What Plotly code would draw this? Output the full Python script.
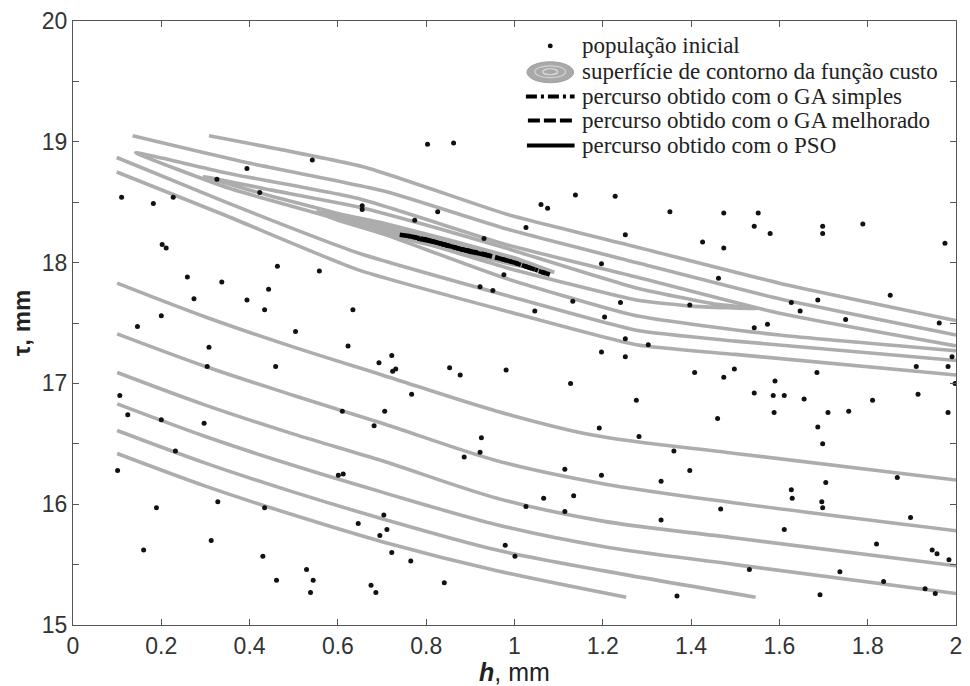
import plotly.graph_objects as go

# ---------------------------------------------------------------------------
# Initial population (h [mm], tau [mm])
# ---------------------------------------------------------------------------
pop_h = [
    0.803, 0.862, 0.542, 0.394, 0.326, 0.110, 0.182, 0.227, 0.423, 0.655, 0.655,
    0.826, 0.774, 0.931, 0.976, 0.922, 0.951, 0.202, 0.211, 0.463, 0.558, 0.259,
    0.337, 0.443, 0.274, 0.394, 0.434, 0.634, 0.200, 0.146, 0.504, 0.623, 0.308,
    1.046, 0.304, 0.459, 0.693, 0.722, 0.724, 0.731, 0.853, 0.877, 0.981, 0.767,
    0.106, 0.124, 0.200, 0.297, 0.610, 0.706, 0.682, 0.925, 0.922, 0.886, 0.232,
    0.101, 0.601, 0.612, 1.066, 1.026, 0.189, 0.328, 0.434, 0.646, 0.704, 0.711,
    0.695, 0.722, 0.765, 0.313, 0.160, 0.430, 0.529, 0.461, 0.544, 0.538, 0.675,
    0.686, 0.841, 0.979, 1.001,
    1.127, 1.474, 1.590, 1.998, 1.543, 1.586, 1.611, 1.656, 1.914, 1.276, 1.811,
    1.460, 1.588, 1.710, 1.757, 1.982, 1.687, 1.698, 1.192, 1.282, 1.361, 1.114,
    1.197, 1.332, 1.397, 1.705, 1.867, 1.627, 1.629, 1.696, 1.698, 1.134, 1.114,
    1.332, 1.467, 1.897, 1.611, 1.820, 1.946, 1.957, 1.984, 1.532, 1.737, 1.836,
    1.930, 1.953, 1.368, 1.692,
    1.138, 1.228, 1.060, 1.075, 1.352, 1.474, 1.552, 1.543, 1.579, 1.698, 1.698,
    1.789, 1.975, 1.251, 1.426, 1.474, 1.026, 1.197, 1.462, 1.851, 1.132, 1.240,
    1.397, 1.627, 1.647, 1.687, 1.962, 1.750, 1.204, 1.543, 1.573, 1.251, 1.251,
    1.303, 1.197, 1.991, 1.982, 1.910, 1.408, 1.498, 1.685,
]
pop_tau = [
    18.98, 18.99, 18.85, 18.78, 18.69, 18.54, 18.49, 18.54, 18.58, 18.47, 18.44,
    18.42, 18.35, 18.20, 17.90, 17.80, 17.77, 18.15, 18.12, 17.97, 17.93, 17.88,
    17.84, 17.78, 17.70, 17.69, 17.61, 17.61, 17.56, 17.47, 17.43, 17.31, 17.30,
    17.60, 17.14, 17.14, 17.17, 17.23, 17.10, 17.12, 17.13, 17.07, 17.11, 16.91,
    16.90, 16.74, 16.70, 16.67, 16.77, 16.77, 16.65, 16.55, 16.43, 16.39, 16.44,
    16.28, 16.24, 16.25, 16.05, 15.98, 15.97, 16.02, 15.97, 15.84, 15.91, 15.79,
    15.74, 15.60, 15.53, 15.70, 15.62, 15.57, 15.46, 15.37, 15.37, 15.27, 15.33,
    15.27, 15.35, 15.66, 15.57,
    17.00, 17.05, 17.02, 17.00, 16.92, 16.90, 16.90, 16.87, 16.91, 16.86, 16.86,
    16.71, 16.76, 16.76, 16.77, 16.76, 16.64, 16.50, 16.63, 16.56, 16.44, 16.29,
    16.24, 16.19, 16.28, 16.18, 16.22, 16.12, 16.05, 16.02, 15.97, 16.07, 15.94,
    15.87, 15.96, 15.89, 15.79, 15.67, 15.62, 15.59, 15.54, 15.46, 15.44, 15.36,
    15.30, 15.26, 15.24, 15.25,
    18.56, 18.55, 18.48, 18.45, 18.42, 18.41, 18.41, 18.30, 18.24, 18.30, 18.24,
    18.32, 18.16, 18.23, 18.17, 18.12, 18.29, 17.99, 17.87, 17.73, 17.68, 17.67,
    17.65, 17.67, 17.60, 17.69, 17.50, 17.53, 17.55, 17.46, 17.49, 17.37, 17.22,
    17.32, 17.26, 17.22, 17.14, 17.14, 17.09, 17.12, 17.09,
]

# ---------------------------------------------------------------------------
# Cost-function contour lines (polylines in h, tau)
# ---------------------------------------------------------------------------
# innermost closed level (drawn filled)
c1_h = [0.551, 0.62, 0.70, 0.85, 1.00, 1.09, 1.00, 0.85, 0.70, 0.60, 0.551]
c1_tau = [18.42, 18.39, 18.33, 18.19, 18.04, 17.92, 17.98, 18.11, 18.24, 18.35, 18.42]

# second closed level
c2_h = [0.297, 0.45, 0.646, 0.83, 0.98, 1.276, 1.45, 1.55, 1.40, 1.276, 0.98, 0.80, 0.646, 0.45, 0.297]
c2_tau = [18.71, 18.60, 18.46, 18.28, 18.12, 17.79, 17.66, 17.62, 17.64, 17.69, 17.96, 18.16, 18.36, 18.55, 18.71]

# third level: closed at the left, leaves through the right border
c3_h = [2.0, 1.6, 1.276, 0.98, 0.646, 0.35, 0.142, 0.35, 0.646, 0.98, 1.276, 1.6, 2.0]
c3_tau = [17.31, 17.58, 17.88, 18.15, 18.53, 18.74, 18.91, 18.62, 18.31, 17.87, 17.56, 17.40, 17.27]

# fourth level: upper and lower branches
c4a_h = [0.135, 0.391, 0.706, 0.98, 1.276, 1.6, 2.0]
c4a_tau = [19.05, 18.83, 18.59, 18.28, 18.00, 17.70, 17.40]
c4b_h = [0.099, 0.346, 0.646, 0.98, 1.276, 1.5, 2.0]
c4b_tau = [18.87, 18.50, 18.08, 17.73, 17.44, 17.35, 17.19]

# fifth level: upper and lower branches
c5a_h = [0.308, 0.661, 0.983, 1.276, 1.6, 2.0]
c5a_tau = [19.05, 18.79, 18.40, 18.13, 17.83, 17.52]
c5b_h = [0.099, 0.346, 0.646, 0.98, 1.276, 1.5, 2.0]
c5b_tau = [18.75, 18.39, 17.94, 17.60, 17.32, 17.24, 17.07]

# outer levels, lower-left region
c6_h = [0.1, 0.3, 0.5, 0.7, 0.96, 1.18, 1.5, 2.0]
c6_tau = [17.83, 17.55, 17.30, 17.07, 16.77, 16.57, 16.42, 16.20]
c7_h = [0.1, 0.3, 0.5, 0.7, 0.96, 1.2, 1.5, 2.0]
c7_tau = [17.41, 17.14, 16.90, 16.67, 16.36, 16.17, 16.01, 15.78]
c8_h = [0.1, 0.3, 0.5, 0.7, 0.96, 1.2, 1.5, 2.0]
c8_tau = [17.09, 16.82, 16.58, 16.36, 16.05, 15.86, 15.72, 15.49]
c9_h = [0.1, 0.3, 0.5, 0.7, 0.96, 1.2, 1.5, 2.0]
c9_tau = [16.83, 16.56, 16.32, 16.10, 15.83, 15.65, 15.50, 15.26]
c10_h = [0.1, 0.3, 0.5, 0.7, 0.96, 1.2, 1.546]
c10_tau = [16.61, 16.34, 16.10, 15.88, 15.62, 15.45, 15.23]
c11_h = [0.1, 0.3, 0.5, 0.7, 0.96, 1.253]
c11_tau = [16.42, 16.15, 15.91, 15.69, 15.45, 15.23]

inner_levels = [(c2_h, c2_tau), (c3_h, c3_tau), (c4a_h, c4a_tau), (c4b_h, c4b_tau),
                (c5a_h, c5a_tau), (c5b_h, c5b_tau)]
outer_levels = [(c6_h, c6_tau), (c7_h, c7_tau), (c8_h, c8_tau), (c9_h, c9_tau),
                (c10_h, c10_tau), (c11_h, c11_tau)]

# ---------------------------------------------------------------------------
# Search paths of the optimisers
# ---------------------------------------------------------------------------
ga_simples_h = [0.74, 0.76, 0.80, 0.84, 0.88, 0.92, 0.96, 1.00, 1.04, 1.08]
ga_simples_tau = [18.23, 18.22, 18.19, 18.15, 18.11, 18.08, 18.04, 18.00, 17.95, 17.90]
ga_melhorado_h = [0.76, 0.80, 0.84, 0.88, 0.92, 0.96, 1.00, 1.04, 1.07]
ga_melhorado_tau = [18.22, 18.19, 18.15, 18.11, 18.08, 18.04, 18.00, 17.95, 17.91]
pso_h = [0.78, 0.82, 0.86, 0.90, 0.94]
pso_tau = [18.20, 18.17, 18.13, 18.09, 18.06]

x_ticks = [0, 0.2, 0.4, 0.6, 0.8, 1, 1.2, 1.4, 1.6, 1.8, 2]
x_ticktext = ["0", "0.2", "0.4", "0.6", "0.8", "1", "1.2", "1.4", "1.6", "1.8", "2"]
y_ticks = [15, 15.5, 16, 16.5, 17, 17.5, 18, 18.5, 19, 19.5, 20]
y_ticktext = ["15", "", "16", "", "17", "", "18", "", "19", "", "20"]

legend_labels = [
    "população inicial",
    "superfície de contorno da função custo",
    "percurso obtido com o GA simples",
    "percurso obtido com o GA melhorado",
    "percurso obtido com o PSO",
]

GRAY = "#adadad"
SERIF = "Liberation Serif, Times New Roman, serif"

# figure geometry (pixels) used to place the key
W, H = 970, 686
ML, MR, MT, MB = 73, 8, 21, 58
PW, PH = W - ML - MR, H - MT - MB


def px(xp):
    return (xp - ML) / PW


def py(yp):
    return 1 - (yp - MT) / PH


fig = go.Figure()

# contour surface of the cost function
fig.add_trace(go.Scatter(
    x=c1_h, y=c1_tau, mode="lines", fill="toself", fillcolor=GRAY,
    line=dict(color=GRAY, width=3.5), name=legend_labels[1], hoverinfo="skip",
))
for ch, ct in inner_levels:
    fig.add_trace(go.Scatter(
        x=ch, y=ct, mode="lines", line=dict(color=GRAY, width=3.6, shape="spline", smoothing=0.5),
        name=legend_labels[1], hoverinfo="skip",
    ))
for ch, ct in outer_levels:
    fig.add_trace(go.Scatter(
        x=ch, y=ct, mode="lines", line=dict(color=GRAY, width=3.6, shape="spline", smoothing=0.9),
        name=legend_labels[1], hoverinfo="skip",
    ))

# initial population
fig.add_trace(go.Scatter(
    x=pop_h, y=pop_tau, mode="markers", name=legend_labels[0],
    marker=dict(color="#111", size=5),
))

# optimiser paths
fig.add_trace(go.Scatter(
    x=ga_simples_h, y=ga_simples_tau, mode="lines", name=legend_labels[2],
    line=dict(color="#000", width=4.5, dash="10px,4px,3px,4px"),
))
fig.add_trace(go.Scatter(
    x=ga_melhorado_h, y=ga_melhorado_tau, mode="lines", name=legend_labels[3],
    line=dict(color="#000", width=4.5, dash="11px,4px"),
))
fig.add_trace(go.Scatter(
    x=pso_h, y=pso_tau, mode="lines", name=legend_labels[4],
    line=dict(color="#000", width=4.5),
))

# ---------------------------------------------------------------------------
# Key (drawn inside the axes, upper right)
# ---------------------------------------------------------------------------
row_y = [46, 72, 97, 121, 146]
text_x = 583
sym_x0, sym_x1 = 529, 578
annotations = []
for label, ry in zip(legend_labels, row_y):
    annotations.append(dict(
        x=px(text_x), y=py(ry), xref="paper", yref="paper", text=label,
        showarrow=False, xanchor="left", yanchor="middle",
        font=dict(family=SERIF, size=23, color="#222"),
    ))

shapes = [
    # population marker
    dict(type="circle", xref="paper", yref="paper",
         x0=px(551), x1=px(556), y0=py(48.5), y1=py(43.5),
         fillcolor="#111", line=dict(width=0)),
    # contour surface glyph: gray ellipse with lighter inner rings
    dict(type="circle", xref="paper", yref="paper",
         x0=px(530), x1=px(577), y0=py(83), y1=py(62),
         fillcolor="#a9a9a9", line=dict(color="#a0a0a0", width=1)),
    dict(type="circle", xref="paper", yref="paper",
         x0=px(538), x1=px(569), y0=py(78), y1=py(66),
         fillcolor="rgba(0,0,0,0)", line=dict(color="#d4d4d4", width=1.2)),
    dict(type="circle", xref="paper", yref="paper",
         x0=px(546), x1=px(561), y0=py(75), y1=py(69),
         fillcolor="rgba(0,0,0,0)", line=dict(color="#dcdcdc", width=1.2)),
    # path glyphs
    dict(type="line", xref="paper", yref="paper",
         x0=px(sym_x0), x1=px(sym_x1), y0=py(row_y[2]), y1=py(row_y[2]),
         line=dict(color="#000", width=4, dash="11px,4px,3px,4px")),
    dict(type="line", xref="paper", yref="paper",
         x0=px(sym_x0 + 2), x1=px(sym_x1), y0=py(row_y[3]), y1=py(row_y[3]),
         line=dict(color="#000", width=4, dash="12px,4px")),
    dict(type="line", xref="paper", yref="paper",
         x0=px(sym_x0 + 1), x1=px(sym_x1), y0=py(row_y[4]), y1=py(row_y[4]),
         line=dict(color="#000", width=4)),
]

axis_common = dict(
    showline=True, linecolor="#555", linewidth=1, mirror="ticks",
    ticks="inside", ticklen=6, tickcolor="#555", showgrid=False, zeroline=False,
)

fig.update_layout(
    width=W, height=H,
    margin=dict(l=ML, r=MR, t=MT, b=MB),
    paper_bgcolor="white", plot_bgcolor="white",
    showlegend=False,
    xaxis=dict(
        range=[0, 2], tickvals=x_ticks, ticktext=x_ticktext,
        tickfont=dict(family="Liberation Sans Narrow, Liberation Sans, Arial", size=23, color="#333"),
        title=dict(text="<b><i>h</i></b>, mm", standoff=2,
                   font=dict(family="Liberation Sans Narrow, Liberation Sans, Arial", size=25, color="#222")),
        **axis_common,
    ),
    yaxis=dict(
        range=[15, 20], tickvals=y_ticks, ticktext=y_ticktext,
        tickfont=dict(family="Liberation Sans, Arial", size=23, color="#333"),
        title=dict(text="<b>τ, mm</b>", standoff=4,
                   font=dict(family="Liberation Sans, Arial", size=24, color="#222")),
        **axis_common,
    ),
    annotations=annotations,
    shapes=shapes,
)

fig.write_html("out.html")
